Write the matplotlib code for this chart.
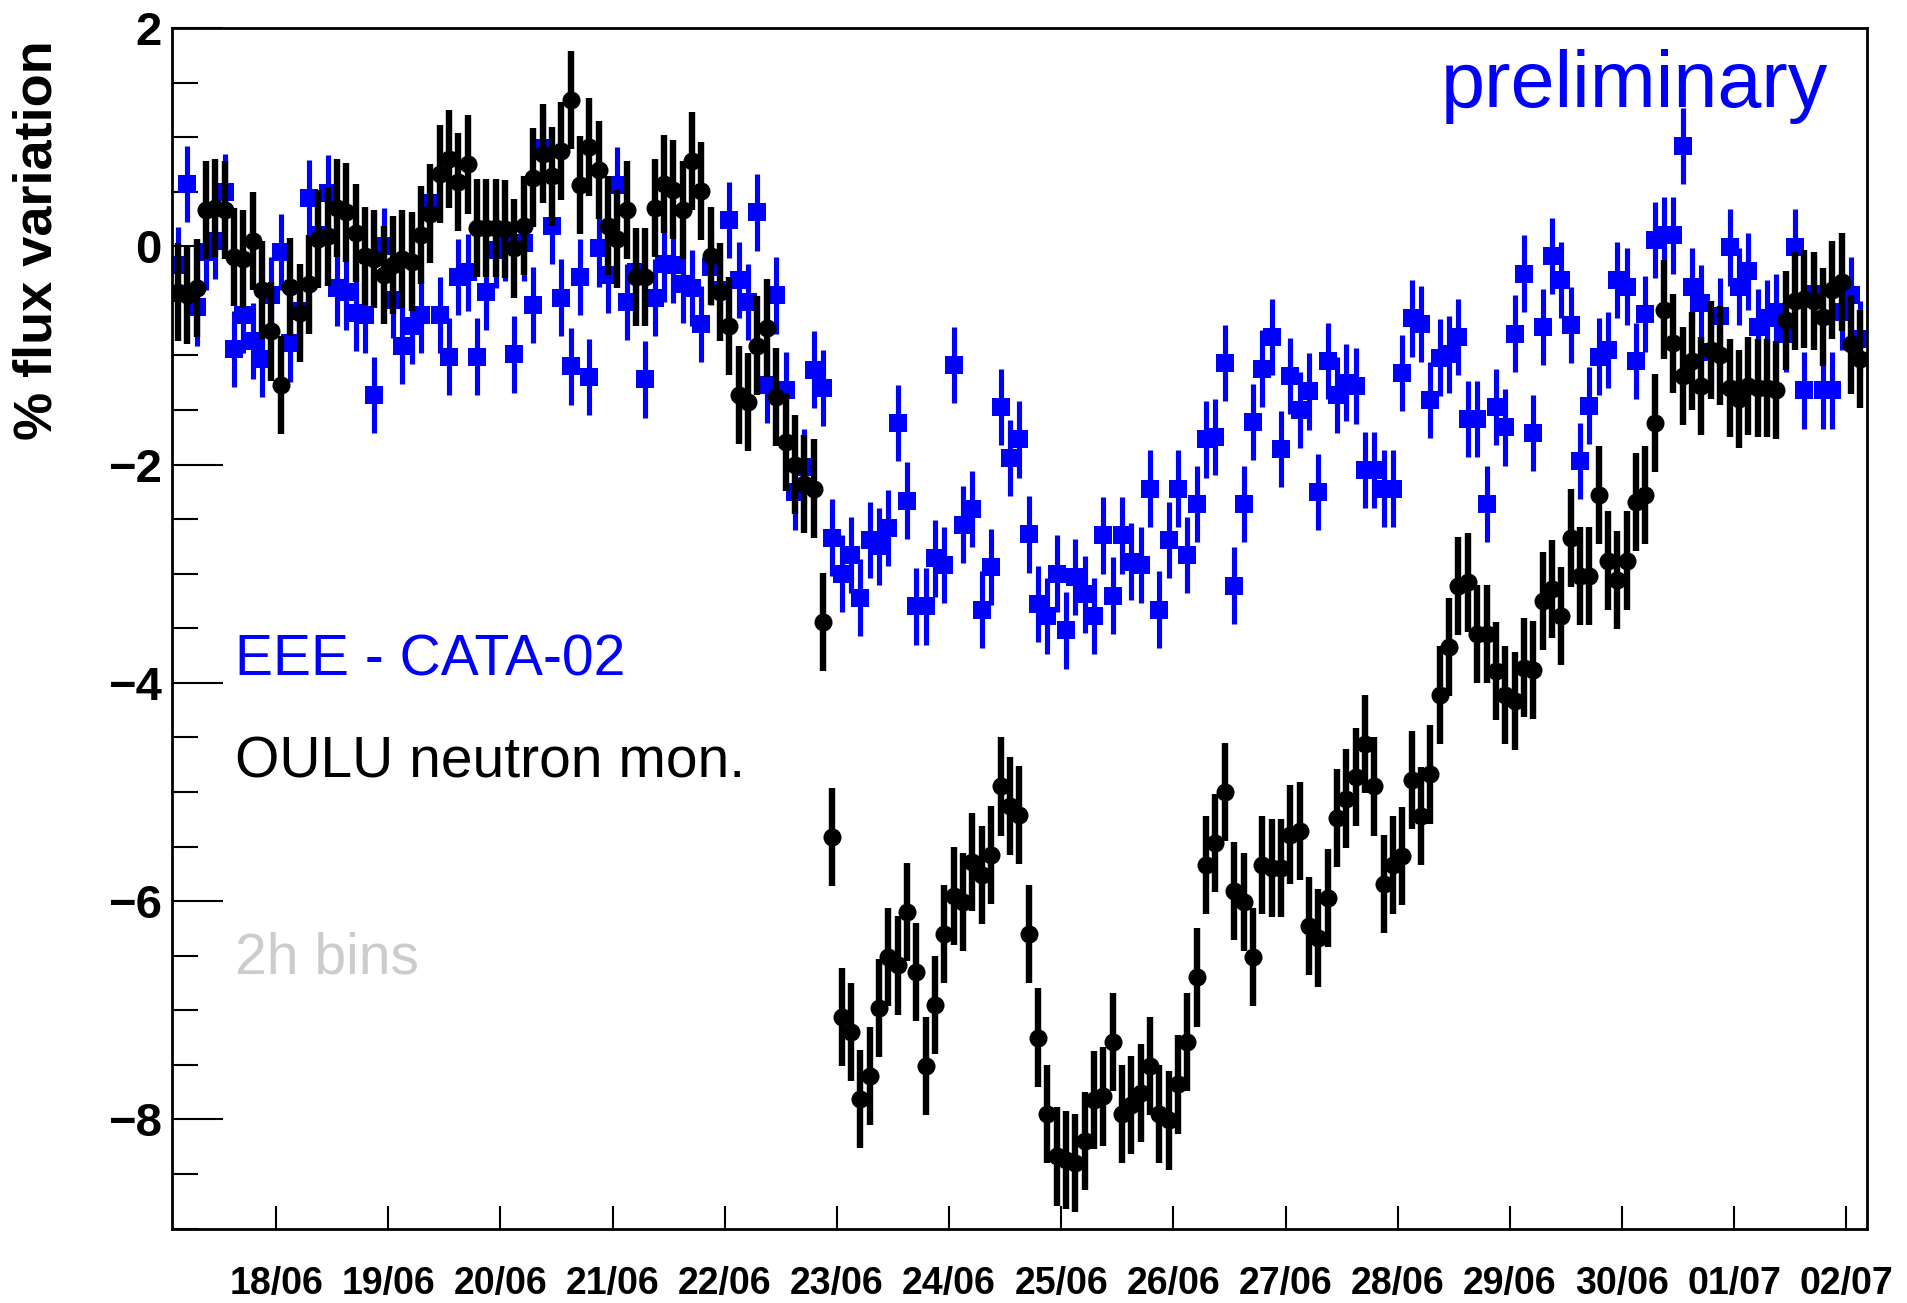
import matplotlib
matplotlib.use("Agg")
import matplotlib.pyplot as plt
import numpy as np

# ---------------- data ----------------
tick_labels = ["18/06", "19/06", "20/06", "21/06", "22/06", "23/06", "24/06", "25/06",
               "26/06", "27/06", "28/06", "29/06", "30/06", "01/07", "02/07"]
tick_days = [1, 2, 3, 4, 5, 6, 7, 8, 9, 10, 11, 12, 13, 14, 15]   # days after 17/06 00:00

# OULU neutron monitor, % flux variation, 2h bins starting 17/06 ~03:00
oulu = [
    -0.42, -0.45, -0.38, 0.33, 0.35, 0.33, -0.10, -0.12, 0.05, -0.40, -0.78, -1.27,
    -0.37, -0.61, -0.35, 0.07, 0.09, 0.35, 0.31, 0.12, -0.09, -0.12, -0.26, -0.17,
    -0.12, -0.14, 0.10, 0.30, 0.66, 0.80, 0.59, 0.75, 0.17, 0.17, 0.17, 0.16,
    -0.02, 0.19, 0.63, 0.85, 0.64, 0.87, 1.34, 0.56, 0.91, 0.70, 0.19, 0.07,
    0.33, -0.28, -0.28, 0.35, 0.57, 0.52, 0.33, 0.78, 0.51, -0.09, -0.42, -0.73,
    -1.36, -1.43, -0.91, -0.75, -1.38, -1.79, -2.00, -2.18, -2.22, -3.44, -5.41, -7.06,
    -7.20, -7.81, -7.60, -6.98, -6.51, -6.59, -6.10, -6.65, -7.51, -6.95, -6.30, -5.95,
    -6.01, -5.64, -5.76, -5.58, -4.95, -5.13, -5.21, -6.30, -7.25, -7.95, -8.34, -8.37,
    -8.40, -8.20, -7.82, -7.79, -7.29, -7.95, -7.87, -7.76, -7.51, -7.95, -8.01, -7.68,
    -7.29, -6.70, -5.67, -5.47, -5.00, -5.91, -6.01, -6.51, -5.67, -5.70, -5.70, -5.39,
    -5.36, -6.23, -6.34, -5.97, -5.24, -5.06, -4.86, -4.56, -4.95, -5.84, -5.67, -5.59,
    -4.89, -5.22, -4.84, -4.11, -3.67, -3.11, -3.08, -3.55, -3.55, -3.89, -4.11, -4.17,
    -3.86, -3.88, -3.25, -3.14, -3.39, -2.67, -3.02, -3.02, -2.28, -2.88, -3.06, -2.88,
    -2.34, -2.28, -1.62, -0.58, -0.89, -1.19, -1.05, -1.28, -0.95, -1.00, -1.30, -1.40,
    -1.28, -1.30, -1.30, -1.32, -0.68, -0.50, -0.48, -0.50, -0.65, -0.40, -0.33, -0.90,
    -1.03,
]

# EEE - CATA-02 telescope, % flux variation, same bins
eee = [
    -0.17, 0.57, -0.56, -0.05, 0.05, 0.50, -0.94, -0.63, -0.87, -1.03, -0.45, -0.05,
    -0.89, -0.59, 0.44, 0.10, 0.49, -0.38, -0.42, -0.61, -0.63, -1.36, 0.00, -0.49,
    -0.91, -0.73, -0.63, 0.40, -0.63, -1.01, -0.28, -0.24, -1.01, -0.42, -0.03, 0.03,
    -0.99, 0.03, -0.54, 0.90, 0.19, -0.47, -1.10, -0.28, -1.20, -0.02, -0.26, 0.56,
    -0.51, -0.24, -1.22, -0.47, -0.16, -0.17, -0.35, -0.38, -0.71, -0.19, -0.40, 0.24,
    -0.31, -0.51, 0.31, -1.27, -0.45, -1.32, -2.25, -2.02, -1.13, -1.30, -2.67, -3.00,
    -2.83, -3.22, -2.69, -2.75, -2.58, -1.62, -2.33, -3.30, -3.30, -2.86, -2.92, -1.09,
    -2.55, -2.41, -3.33, -2.94, -1.47, -1.94, -1.77, -2.64, -3.28, -3.39, -3.00, -3.52,
    -3.03, -3.19, -3.39, -2.65, -3.20, -2.65, -2.89, -2.92, -2.22, -3.33, -2.69, -2.22,
    -2.83, -2.36, -1.77, -1.75, -1.07, -3.11, -2.36, -1.61, -1.12, -0.83, -1.86, -1.19,
    -1.50, -1.33, -2.25, -1.05, -1.36, -1.25, -1.28, -2.05, -2.05, -2.22, -2.22, -1.16,
    -0.66, -0.71, -1.41, -1.02, -0.99, -0.83, -1.58, -1.58, -2.36, -1.47, -1.66, -0.80,
    -0.25, -1.71, -0.74, -0.09, -0.31, -0.72, -1.97, -1.46, -1.01, -0.95, -0.31, -0.37,
    -1.05, -0.62, 0.06, 0.10, 0.10, 0.92, -0.37, -0.52, -0.97, -0.64, -0.01, -0.37,
    -0.23, -0.74, -0.66, -0.60, -0.80, -0.01, -1.32, -0.44, -1.32, -1.32, -0.60, -0.45,
    -0.85,
]

OULU_ERR = 0.45
EEE_ERR = 0.35
FIRST_BIN_HOUR = 3.0
BIN_HOURS = 2.0

# ---------------- figure ----------------
plt.rcParams['font.family'] = ['Liberation Sans', 'DejaVu Sans']
W, H = 1907, 1303
fig = plt.figure(figsize=(W / 100, H / 100), dpi=100)
ax_l, ax_r, ax_t, ax_b = 171.5, 1867.0, 28.0, 1228.5
ax = fig.add_axes([ax_l / W, 1 - ax_b / H, (ax_r - ax_l) / W, (ax_b - ax_t) / H])

t_oulu = (FIRST_BIN_HOUR + BIN_HOURS * np.arange(len(oulu))) / 24.0
t_eee = (FIRST_BIN_HOUR + BIN_HOURS * np.arange(len(eee))) / 24.0

ax.errorbar(t_eee, eee, yerr=EEE_ERR, fmt='s', color='#0000ff', ms=12.5,
            elinewidth=3.7, capsize=0, mew=0, zorder=2)
ax.errorbar(t_oulu, oulu, yerr=OULU_ERR, fmt='o', color='black', ms=13,
            elinewidth=4.6, capsize=0, mew=0, zorder=3)

ax.set_xlim(0.067, 15.184)
ax.set_ylim(-9, 2)

ax.set_xticks(tick_days)
ax.set_xticklabels(tick_labels)
ax.set_yticks([-8, -6, -4, -2, 0, 2])
ax.set_yticks(np.arange(-9, 2.01, 0.5), minor=True)
ax.set_xticks([], minor=True)

ax.tick_params(axis='x', which='major', direction='in', length=16.5, width=1.5,
               top=False, bottom=True, labelsize=27, pad=27)
ax.tick_params(axis='y', which='major', direction='in', length=37, width=1.5,
               left=True, right=False, labelsize=34, pad=7)
ax.tick_params(axis='y', which='minor', direction='in', length=18.5, width=1.5,
               left=True, right=False)
for lab in ax.get_xticklabels() + ax.get_yticklabels():
    lab.set_fontweight('bold')

for s in ax.spines.values():
    s.set_linewidth(2.0)

# texts
fig.text(1441 / W, 1 - 107 / H, 'preliminary', color='#0000ff', fontsize=57,
         ha='left', va='baseline')
fig.text(235 / W, 1 - 675 / H, 'EEE - CATA-02', color='#0000ff', fontsize=41,
         ha='left', va='baseline')
fig.text(235 / W, 1 - 778 / H, 'OULU neutron mon.', color='black', fontsize=41,
         ha='left', va='baseline')
fig.text(235 / W, 1 - 973 / H, '2h bins', color='#cccccc', fontsize=41,
         ha='left', va='baseline')
fig.text(38 / W, 1 - 240 / H, '% flux variation', rotation=90, fontsize=39,
         fontweight='bold', ha='center', va='center')

fig.savefig('out.png', dpi=100)
